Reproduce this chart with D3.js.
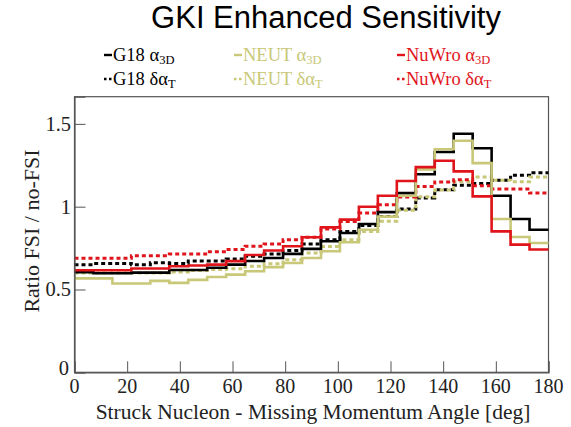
<!DOCTYPE html>
<html><head><meta charset="utf-8">
<script src="https://cdn.jsdelivr.net/npm/d3@7"></script>
<style>body{margin:0;background:#fff;} svg{display:block;}</style>
</head><body>
<script>
// ---- data ----
const binLow = [0,7.2,14.4,21.6,28.8,36,43.2,50.4,57.6,64.8,72,79.2,86.4,93.6,100.8,108,115.2,122.4,129.6,136.8,144,151.2,158.4,165.6,172.8];
const binHigh = 180;
const xTicks = [0,20,40,60,80,100,120,140,160,180];
const yTicks = [0,0.5,1,1.5];
const g18Alpha  = [0.604,0.598,0.598,0.602,0.602,0.618,0.618,0.631,0.65,0.672,0.69,0.715,0.745,0.791,0.841,0.895,0.967,1.082,1.196,1.33,1.44,1.353,1.066,0.926,0.861];
const g18Delta  = [0.649,0.657,0.657,0.649,0.661,0.657,0.672,0.672,0.684,0.70,0.715,0.735,0.775,0.80,0.85,0.886,0.94,0.986,1.052,1.102,1.13,1.14,1.16,1.19,1.205];
const neutAlpha = [0.567,0.567,0.536,0.536,0.552,0.54,0.558,0.575,0.59,0.61,0.635,0.66,0.69,0.731,0.785,0.861,0.94,1.066,1.225,1.347,1.398,1.263,0.926,0.817,0.781];
const neutDelta = [0.60,0.60,0.60,0.60,0.60,0.605,0.615,0.62,0.625,0.64,0.655,0.68,0.72,0.76,0.80,0.85,0.912,0.978,1.06,1.10,1.15,1.179,1.16,1.15,1.179];
const nuwroAlpha= [0.616,0.616,0.616,0.627,0.627,0.64,0.645,0.65,0.671,0.708,0.735,0.761,0.815,0.875,0.922,1.0,1.066,1.155,1.239,1.277,1.213,1.062,0.851,0.771,0.741];
const nuwroDelta= [0.688,0.688,0.688,0.704,0.704,0.714,0.714,0.728,0.742,0.761,0.775,0.80,0.815,0.865,0.91,0.962,1.012,1.058,1.122,1.149,1.163,1.127,1.106,1.106,1.082];

const BLACK = "#000000", OLIVE = "#c8c878", RED = "#e0141b";
const series = [
  {vals: g18Delta, color: BLACK, dash: true},
  {vals: neutDelta, color: OLIVE, dash: true},
  {vals: nuwroDelta, color: RED, dash: true},
  {vals: g18Alpha, color: BLACK, dash: false},
  {vals: neutAlpha, color: OLIVE, dash: false},
  {vals: nuwroAlpha, color: RED, dash: false}
];
const legend = [
  {gen:"G18", sym:"α", sub:"3D", color:BLACK, dash:false, col:0, row:0},
  {gen:"G18", sym:"δα", sub:"T", color:BLACK, dash:true, col:0, row:1},
  {gen:"NEUT", sym:"α", sub:"3D", color:OLIVE, dash:false, col:1, row:0},
  {gen:"NEUT", sym:"δα", sub:"T", color:OLIVE, dash:true, col:1, row:1},
  {gen:"NuWro", sym:"α", sub:"3D", color:RED, dash:false, col:2, row:0},
  {gen:"NuWro", sym:"δα", sub:"T", color:RED, dash:true, col:2, row:1}
];

// ---- chart ----
const W = 571, H = 427;
const svg = d3.select("body").append("svg").attr("width", W).attr("height", H);
const x = d3.scaleLinear().domain([0,180]).range([74.5,548.5]);
const y = d3.scaleLinear().domain([0,1.664]).range([372.3,96.7]);
const serif = "'Liberation Serif','Times New Roman',serif";

// frame
svg.append("rect").attr("x", x(0)).attr("y", y(1.664)).attr("width", x(180)-x(0)).attr("height", y(0)-y(1.664))
  .attr("fill","none").attr("stroke","#555").attr("stroke-width",1.2);

// histograms
const line = d3.line().x(d=>x(d[0])).y(d=>y(d[1])).curve(d3.curveStepAfter);
series.forEach(s=>{
  const pts = binLow.map((b,i)=>[b, s.vals[i]]);
  pts.push([binHigh, s.vals[s.vals.length-1]]);
  svg.append("path").attr("d", line(pts)).attr("fill","none")
    .attr("stroke", s.color).attr("stroke-width", s.dash ? 3 : 2.6)
    .attr("stroke-dasharray", s.dash ? "4,3" : null);
});

// axes (ticks inward)
const xAxis = d3.axisTop(x).tickValues(xTicks).tickSize(11).tickFormat("");
const gx = svg.append("g").attr("transform",`translate(0,${y(0)})`).call(xAxis);
gx.select(".domain").attr("stroke","#555").attr("stroke-width",1.2);
gx.selectAll(".tick line").attr("stroke","#555");
const yAxis = d3.axisRight(y).tickValues(yTicks).tickSize(11).tickFormat("");
const gy = svg.append("g").attr("transform",`translate(${x(0)},0)`).call(yAxis);
gy.select(".domain").attr("stroke","#555").attr("stroke-width",1.2);
gy.selectAll(".tick line").attr("stroke","#555");

// tick labels
svg.append("g").selectAll("text").data(xTicks).join("text")
  .attr("x", d=>x(d)).attr("y", 393).attr("text-anchor","middle")
  .attr("font-family", serif).attr("font-size", 20).attr("fill","#222").text(d=>d);
svg.append("g").selectAll("text").data(yTicks).join("text")
  .attr("x", d=> d===0 ? 69 : 71).attr("y", d=> d===0 ? y(d)+3 : y(d)+7).attr("text-anchor","end")
  .attr("font-family", serif).attr("font-size", 20.5).attr("fill","#222").text(d=>d===0?"0":d3.format("")(d));

// axis titles
svg.append("text").attr("x", 313).attr("y", 419).attr("text-anchor","middle")
  .attr("font-family", serif).attr("font-size", 21.5).attr("fill","#222")
  .text("Struck Nucleon - Missing Momentum Angle [deg]");
svg.append("text").attr("transform","translate(39,231) rotate(-90)").attr("text-anchor","middle")
  .attr("font-family", serif).attr("font-size", 22).attr("fill","#222")
  .text("Ratio FSI / no-FSI");

// title
svg.append("text").attr("x", 326).attr("y", 28).attr("text-anchor","middle")
  .attr("font-family","'Liberation Sans',Arial,sans-serif").attr("font-size", 31).attr("fill","#000")
  .text("GKI Enhanced Sensitivity");

// legend
const colX = [104, 234, 397], rowY = [61, 85];
legend.forEach(l=>{
  const lx = colX[l.col], ly = rowY[l.row];
  const g = svg.append("g");
  g.append("line").attr("x1", lx).attr("x2", lx+8).attr("y1", ly-6).attr("y2", ly-6)
    .attr("stroke", l.color).attr("stroke-width", 2.4)
    .attr("stroke-dasharray", l.dash ? "2.5,2.5" : null);
  const t = g.append("text").attr("x", lx+9).attr("y", ly)
    .attr("font-family", serif).attr("font-size", 18.5).attr("fill", l.color);
  t.append("tspan").text(l.gen + " " + l.sym);
  t.append("tspan").attr("font-size", 12.5).attr("dy", 3).text(l.sub);
});
</script>
</body></html>
